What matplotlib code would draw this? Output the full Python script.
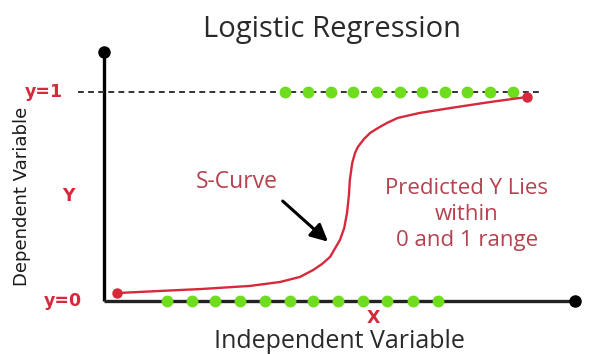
import numpy as np
import matplotlib
matplotlib.use("Agg")
from matplotlib import pyplot as plt

# S-curve (x in 0..10, y in 0..1)
curve_x = [0.28, 1.19, 2.04, 3.10, 3.74, 4.16, 4.44, 4.63, 4.80, 5.01, 5.10, 5.16,
           5.20, 5.22, 5.27, 5.33, 5.39, 5.52, 5.65, 5.82, 6.01, 6.24, 6.71, 7.35,
           8.20, 8.98]
curve_y = [0.038, 0.048, 0.057, 0.072, 0.091, 0.115, 0.148, 0.177, 0.211, 0.292,
           0.349, 0.421, 0.507, 0.579, 0.660, 0.708, 0.737, 0.775, 0.804, 0.828,
           0.852, 0.876, 0.900, 0.923, 0.952, 0.976]

# green observations at y=1 and y=0
top_x = [3.84, 4.33, 4.82, 5.29, 5.80, 6.28, 6.75, 7.24, 7.71, 8.20, 8.68]
bottom_x = [1.34, 1.87, 2.36, 2.89, 3.42, 3.95, 4.44, 4.97, 5.50, 6.01, 6.56, 7.09]

RED = '#d62a3c'
TXT_RED = '#b5424f'
GREEN = '#6fdc1e'
FONT = ['Open Sans', 'DejaVu Sans']
BOLD = ['DejaVu Sans']

fig = plt.figure(figsize=(5.91, 3.54), dpi=100)
ax = fig.add_axes([0, 0, 1, 1])
ax.set_xlim(-2.208, 10.34)
ax.set_ylim(-0.2536, 1.440)
ax.axis('off')

# axes with dot ends
ax.plot([0, 0], [0, 1.19], color='black', lw=2.4, solid_capstyle='butt', zorder=2)
ax.plot([0, 10], [0, 0], color='#222222', lw=2.4, solid_capstyle='butt', zorder=2)
ax.plot([0], [1.19], 'o', color='black', ms=8, zorder=3)
ax.plot([10], [0], 'o', color='black', ms=8, zorder=3)

# y=1 dashed line
ax.plot([-0.55, 9.26], [1, 1], color='#333333', lw=1.4, ls=(0, (3, 2.2)), zorder=2)

ax.plot(top_x, [1] * len(top_x), 'o', color=GREEN, ms=7.5, zorder=4)
ax.plot(bottom_x, [0] * len(bottom_x), 'o', color=GREEN, ms=7.5, zorder=4)

ax.plot(curve_x, curve_y, color=RED, lw=1.7, zorder=5)
ax.plot([curve_x[0], curve_x[-1]], [curve_y[0], curve_y[-1]], 'o', color=RED, ms=6.5, zorder=6)

ax.annotate('', xy=(4.80, 0.275), xytext=(3.75, 0.487),
            arrowprops=dict(arrowstyle='-|>', color='black', lw=2.2,
                            mutation_scale=26))

ax.text(4.84, 1.30, 'Logistic Regression', fontsize=21, color='#2a2a2a',
        family=FONT, ha='center', va='center')
ax.text(-1.27, 1, 'y=1', fontsize=12.5, color=RED, fontweight='bold',
        family=BOLD, ha='center', va='center')
ax.text(-0.87, 0, 'y=0', fontsize=12.5, color=RED, fontweight='bold',
        family=BOLD, ha='center', va='center')
ax.text(-0.76, 0.50, 'Y', fontsize=12.5, color=RED, fontweight='bold',
        family=BOLD, ha='center', va='center')
ax.text(-1.74, 0.50, 'Dependent Variable', fontsize=13, color='#1a1a1a',
        family=['Liberation Sans Narrow', 'DejaVu Sans'], rotation=90,
        ha='center', va='center')
ax.text(5.71, -0.081, 'X', fontsize=12.5, color=RED, fontweight='bold',
        family=BOLD, ha='center', va='center')
ax.text(5.0, -0.195, 'Independent Variable', fontsize=18, color='#2a2a2a',
        family=FONT, ha='center', va='center')
ax.text(2.82, 0.569, 'S-Curve', fontsize=16.5, color=TXT_RED,
        family=FONT, ha='center', va='center')
ax.text(7.70, 0.415, 'Predicted Y Lies\nwithin\n0 and 1 range', fontsize=16,
        color=TXT_RED, family=FONT, ha='center', va='center', linespacing=1.3)

fig.savefig('out.png', dpi=100)
